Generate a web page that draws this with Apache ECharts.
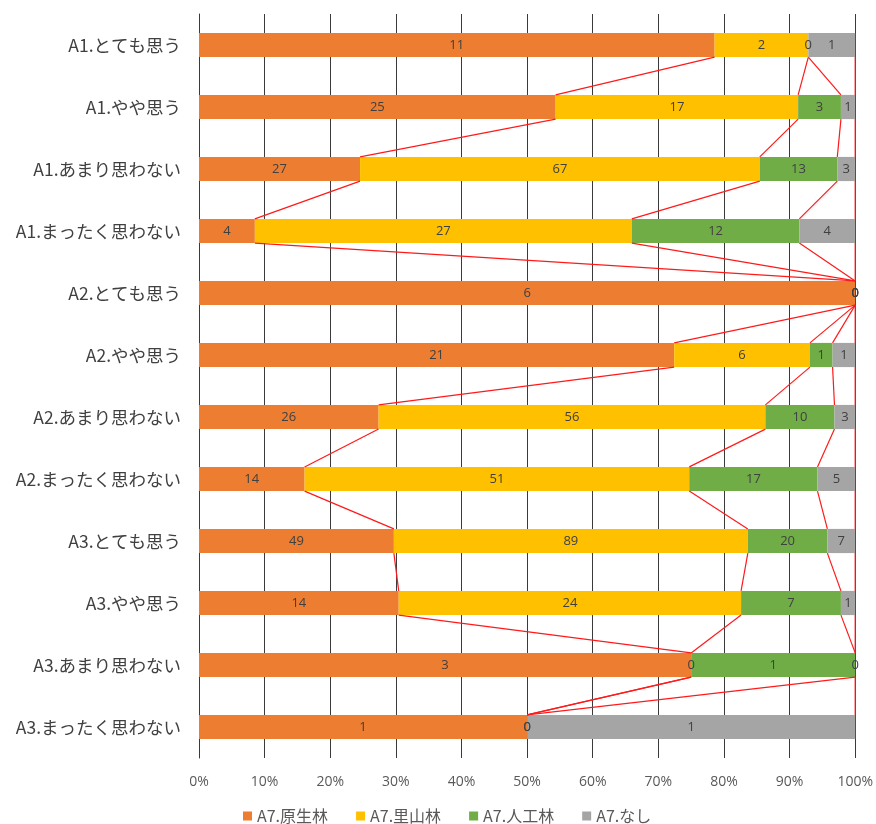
<!DOCTYPE html>
<html>
<head>
<meta charset="utf-8">
<script src="https://cdn.jsdelivr.net/npm/echarts@6/dist/echarts.min.js"></script>
<style>
  html, body { margin: 0; padding: 0; background: #ffffff; }
  #chart { width: 876px; height: 824px; }
</style>
</head>
<body>
<div id="chart"></div>
<script>
// Categories, top to bottom
const categories = [
  'A1.とても思う', 'A1.やや思う', 'A1.あまり思わない', 'A1.まったく思わない',
  'A2.とても思う', 'A2.やや思う', 'A2.あまり思わない', 'A2.まったく思わない',
  'A3.とても思う', 'A3.やや思う', 'A3.あまり思わない', 'A3.まったく思わない'
];
const seriesNames = ['A7.原生林', 'A7.里山林', 'A7.人工林', 'A7.なし'];

// Response counts per category
const genseirin   = [11, 25, 27,  4, 6, 21, 26, 14, 49, 14, 3, 1];
const satoyamarin = [ 2, 17, 67, 27, 0,  6, 56, 51, 89, 24, 0, 0];
const jinkourin   = [ 0,  3, 13, 12, 0,  1, 10, 17, 20,  7, 1, 0];
const nashi       = [ 1,  1,  3,  4, 0,  1,  3,  5,  7,  1, 0, 1];

const colors = ['#ED7D31', '#FFC000', '#70AD47', '#A5A5A5'];
const BAR_RATIO = 0.39;

const counts = [genseirin, satoyamarin, jinkourin, nashi];
const totals = categories.map((_, i) => counts.reduce((s, a) => s + a[i], 0));
const shares = counts.map(a => a.map((v, i) => v / totals[i] * 100));
// right edge of each stacked segment, per category
const edges = categories.map((_, i) => {
  let s = 0;
  return shares.map(a => Math.min(100, (s += a[i])));
});

const barSeries = seriesNames.map((name, k) => ({
  name,
  type: 'bar',
  stack: 'total',
  barWidth: (BAR_RATIO * 100) + '%',
  itemStyle: { color: colors[k] },
  label: {
    show: true,
    position: 'inside',
    color: '#404040',
    fontSize: 13,
    fontFamily: 'Open Sans, sans-serif',
    formatter: p => String(counts[k][p.dataIndex])
  },
  emphasis: { disabled: true },
  data: shares[k]
}));

// Series lines joining segment ends of neighbouring bars
const seriesLines = {
  type: 'custom',
  silent: true,
  z: 5,
  renderItem(params, api) {
    const i = params.dataIndex;
    const half = api.size([0, 1])[1] * BAR_RATIO / 2;
    const children = edges[i].map((x, k) => {
      const p0 = api.coord([x, i]);
      const p1 = api.coord([edges[i + 1][k], i + 1]);
      return {
        type: 'line',
        shape: { x1: p0[0], y1: p0[1] + half, x2: p1[0], y2: p1[1] - half },
        style: { stroke: '#FF1A1A', lineWidth: 1.2 }
      };
    });
    return { type: 'group', children };
  },
  encode: { x: 0, y: 1 },
  data: categories.slice(0, -1).map((c, i) => [100, i])
};

const chart = echarts.init(document.getElementById('chart'), null, { renderer: 'canvas' });
chart.setOption({
  animation: false,
  backgroundColor: '#ffffff',
  grid: { left: 199, right: 20, top: 14, bottom: 66, containLabel: false },
  legend: {
    data: seriesNames,
    top: 803,
    left: 238,
    icon: 'rect',
    itemWidth: 9,
    itemHeight: 9,
    itemGap: 28,
    textStyle: {
      color: '#595959',
      fontSize: 16,
      fontFamily: 'Noto Sans CJK JP, sans-serif',
      width: 80,
      overflow: 'none'
    }
  },
  xAxis: {
    type: 'value',
    min: 0,
    max: 100,
    interval: 10,
    axisLine: { show: false },
    axisTick: { show: false },
    splitLine: { show: true, lineStyle: { color: '#3a3a3a', width: 1 } },
    axisLabel: {
      formatter: '{value}%',
      color: '#595959',
      fontSize: 14,
      fontFamily: 'Open Sans, sans-serif',
      margin: 17
    }
  },
  yAxis: {
    type: 'category',
    inverse: true,
    data: categories,
    axisLine: { show: true, lineStyle: { color: '#3a3a3a', width: 1 } },
    axisTick: { show: false },
    axisLabel: {
      color: '#404040',
      fontSize: 17.5,
      fontFamily: 'Noto Sans CJK JP, sans-serif',
      margin: 18
    }
  },
  series: [...barSeries, seriesLines]
});
</script>
</body>
</html>
